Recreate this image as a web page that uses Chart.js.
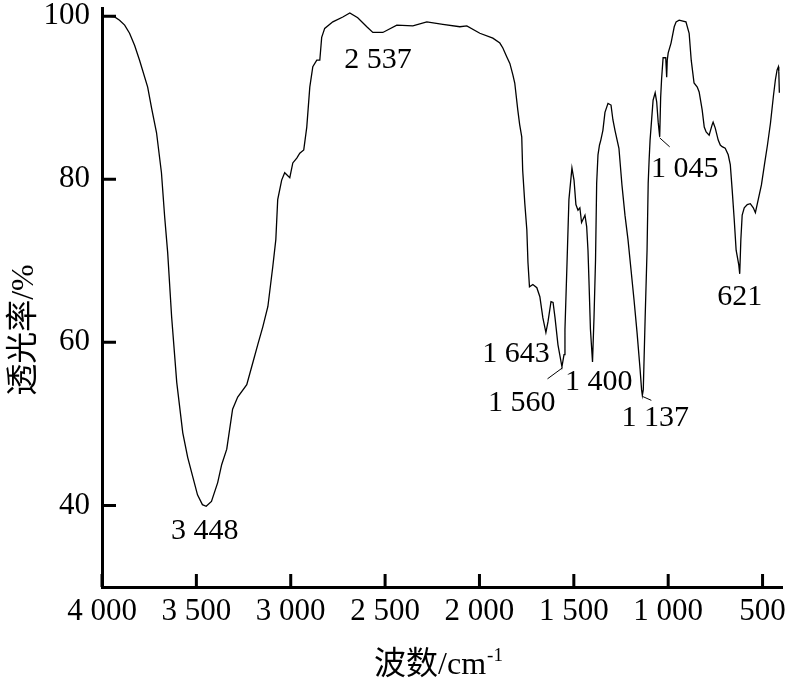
<!DOCTYPE html>
<html>
<head>
<meta charset="utf-8">
<script src="https://cdn.jsdelivr.net/npm/chart.js@4.4.1/dist/chart.umd.min.js"></script>
<style>
  html, body { margin: 0; padding: 0; background: #fff; }
  #wrap { width: 793px; height: 680px; }
</style>
</head>
<body>
<div id="wrap"><canvas id="irChart" width="793" height="680"></canvas></div>
<script>
// FTIR spectrum, values
const wavenumbers = [
    3997, 3977, 3933, 3907, 3880, 3854, 3827, 3801, 3758, 3737, 3711, 3685, 3668, 3652, 3631, 3604,
    3572, 3546, 3520, 3494, 3468, 3448, 3420, 3387, 3366, 3339, 3308, 3281, 3233, 3201, 3175, 3148,
    3121, 3095, 3079, 3069, 3048, 3032, 3005, 2989, 2968, 2952, 2931, 2915, 2899, 2883, 2862, 2846,
    2836, 2820, 2777, 2724, 2687, 2645, 2597, 2565, 2512, 2438, 2353, 2279, 2194, 2104, 2067, 1998,
    1929, 1892, 1876, 1855, 1839, 1823, 1813, 1797, 1787, 1776, 1771, 1760, 1749, 1743, 1735, 1717,
    1696, 1680, 1664, 1648, 1637, 1621, 1610, 1600, 1584, 1563, 1552, 1547, 1536, 1526, 1510, 1499,
    1489, 1478, 1468, 1459, 1441, 1432, 1425, 1420, 1412, 1401, 1393, 1385, 1379, 1372, 1364, 1357,
    1346, 1335, 1319, 1303, 1293, 1282, 1261, 1245, 1229, 1213, 1197, 1181, 1165, 1149, 1141, 1137,
    1132, 1122, 1112, 1106, 1101, 1096, 1080, 1069, 1061, 1053, 1045, 1040, 1035, 1027, 1013, 1008,
    1005, 1000, 985, 968, 958, 942, 922, 906, 889, 878, 863, 846, 836, 820, 809, 799,
    783, 767, 762, 751, 735, 724, 714, 698, 682, 671, 661, 650, 640, 626, 621, 615,
    608, 597, 581, 565, 549, 538, 523, 506, 490, 474, 458, 442, 432, 423, 416, 414, 411
];
const transmittance = [
    100.0, 100.0, 99.9, 99.5, 98.9, 97.9, 96.4, 94.6, 91.3, 88.7, 85.7, 80.8, 75.4, 71.0, 63.1, 55.1,
    48.9, 45.9, 43.6, 41.3, 40.1, 39.9, 40.5, 42.8, 45.0, 46.9, 51.8, 53.3, 54.8, 57.5, 59.7, 61.9,
    64.4, 69.3, 72.6, 77.5, 79.9, 80.8, 80.2, 82.0, 82.6, 83.2, 83.6, 86.4, 91.3, 93.8, 94.6, 94.6,
    97.4, 98.5, 99.3, 99.9, 100.4, 99.8, 98.7, 98.0, 98.0, 98.9, 98.8, 99.3, 99.0, 98.7, 98.8, 97.9,
    97.3, 96.7, 96.1, 95.0, 94.2, 92.8, 91.8, 88.5, 86.7, 85.2, 81.1, 77.1, 73.8, 69.8, 66.8, 67.1,
    66.7, 65.6, 63.0, 61.2, 62.5, 65.0, 64.9, 63.1, 59.7, 57.0, 58.5, 61.6, 69.8, 77.5, 81.4, 79.9,
    76.9, 76.2, 76.5, 74.7, 75.6, 74.2, 71.3, 67.7, 61.6, 57.6, 63.1, 70.1, 79.5, 83.0, 84.2, 84.8,
    86.0, 88.2, 89.3, 89.1, 87.3, 86.0, 83.8, 79.3, 75.6, 72.6, 68.9, 65.2, 61.2, 56.7, 54.2, 53.5,
    54.2, 63.1, 71.3, 79.5, 82.4, 84.8, 89.7, 90.6, 89.5, 87.0, 85.2, 90.0, 92.3, 94.9, 94.9, 92.5,
    94.6, 95.5, 96.7, 98.7, 99.3, 99.5, 99.4, 99.3, 97.9, 94.6, 91.8, 91.3, 90.7, 88.5, 86.4, 85.8,
    85.4, 86.7, 87.0, 86.3, 84.8, 84.2, 84.0, 83.8, 83.0, 81.8, 78.7, 75.0, 71.3, 69.5, 68.4, 72.6,
    75.6, 76.5, 76.9, 77.0, 76.5, 75.9, 77.5, 79.3, 81.8, 84.2, 86.9, 90.3, 92.2, 93.4, 93.8, 93.2, 90.6
];

const xTicks = [4000, 3500, 3000, 2500, 2000, 1500, 1000, 500];
const yTicks = [40, 60, 80, 100];

const peakWavenumbers = [3448, 2537, 1643, 1560, 1400, 1137, 1045, 621];
const peakTransmittance = [39.9, 98.0, 61.2, 57.0, 57.6, 53.5, 85.2, 68.4];
const peakLabels = ['3 448', '2 537', '1 643', '1 560', '1 400', '1 137', '1 045', '621'];

// where each label sits relative to its peak (pixels)
const peakLayout = [
    { dx: -1.5, dy: 33, align: 'center' },
    { dx: 0, dy: 36, align: 'center' },
    { dx: 3, dy: 29, align: 'right' },
    { dx: -7, dy: 44, align: 'right', leader: [-15, 12] },
    { dx: 6, dy: 28, align: 'center' },
    { dx: 13, dy: 31, align: 'center', leader: [9, 5] },
    { dx: 25, dy: 40, align: 'center', leader: [10, 10] },
    { dx: 0, dy: 31, align: 'center' }
];

const serif = '"Liberation Serif", "Times New Roman", "Noto Sans CJK SC", serif';

function spaced(v) {
    return String(v).replace(/\B(?=(\d{3})+(?!\d))/g, ' ');
}

const figurePlugin = {
    id: 'figureExtras',
    afterDraw(chart) {
        const ctx = chart.ctx;
        const x = chart.scales.x;
        const y = chart.scales.y;
        const area = chart.chartArea;
        ctx.save();
        ctx.strokeStyle = '#000';
        ctx.fillStyle = '#000';

        // inward tick marks
        ctx.lineWidth = 3;
        ctx.beginPath();
        xTicks.forEach(v => {
            const px = x.getPixelForValue(v);
            ctx.moveTo(px, area.bottom);
            ctx.lineTo(px, area.bottom - 13);
        });
        yTicks.forEach(v => {
            const py = y.getPixelForValue(v);
            ctx.moveTo(area.left, py);
            ctx.lineTo(area.left + 14, py);
        });
        ctx.stroke();

        // peak labels
        ctx.font = '30px ' + serif;
        ctx.textBaseline = 'alphabetic';
        ctx.lineWidth = 1;
        peakWavenumbers.forEach((wn, i) => {
            const px = x.getPixelForValue(wn);
            const py = y.getPixelForValue(peakTransmittance[i]);
            const lay = peakLayout[i];
            ctx.textAlign = lay.align;
            ctx.fillText(peakLabels[i], px + lay.dx, py + lay.dy);
            if (lay.leader) {
                ctx.beginPath();
                ctx.moveTo(px, py + 1);
                ctx.lineTo(px + lay.leader[0], py + lay.leader[1]);
                ctx.stroke();
            }
        });

        // axis titles
        ctx.font = '32px ' + serif;
        ctx.save();
        ctx.translate(25, 330);
        ctx.rotate(-Math.PI / 2);
        ctx.textAlign = 'center';
        ctx.textBaseline = 'middle';
        ctx.fillText('透光率/%', 0, 0);
        ctx.restore();

        const main = '波数/cm';
        const sup = '-1';
        ctx.font = '32px ' + serif;
        const w1 = ctx.measureText(main).width;
        ctx.font = '19px ' + serif;
        const w2 = ctx.measureText(sup).width;
        const startX = 438 - (w1 + w2) / 2;
        ctx.textAlign = 'left';
        ctx.textBaseline = 'alphabetic';
        ctx.font = '32px ' + serif;
        ctx.fillText(main, startX, 674);
        ctx.font = '19px ' + serif;
        ctx.fillText(sup, startX + w1 + 1, 661);
        ctx.restore();
    }
};

document.addEventListener('DOMContentLoaded', function () {
    const ctx = document.getElementById('irChart');
    new Chart(ctx, {
        type: 'line',
        data: {
            datasets: [{
                data: wavenumbers.map((wn, i) => ({ x: wn, y: transmittance[i] })),
                borderColor: '#000',
                borderWidth: 1.3,
                pointRadius: 0,
                tension: 0,
                fill: false
            }]
        },
        options: {
            responsive: false,
            animation: false,
            devicePixelRatio: 1,
            layout: { padding: { top: 8, right: 11, left: 0, bottom: 0 } },
            plugins: {
                legend: { display: false },
                tooltip: { enabled: false }
            },
            scales: {
                x: {
                    type: 'linear',
                    reverse: true,
                    min: 397,
                    max: 4000,
                    grid: { display: false, drawTicks: false },
                    border: { display: true, color: '#000', width: 3 },
                    afterBuildTicks: scale => { scale.ticks = xTicks.map(v => ({ value: v })); },
                    afterFit: scale => { scale.height = 93; },
                    ticks: {
                        autoSkip: false,
                        maxRotation: 0,
                        padding: 6,
                        color: '#000',
                        font: { family: serif, size: 31 },
                        callback: v => spaced(v)
                    }
                },
                y: {
                    min: 30,
                    max: 101,
                    grid: { display: false, drawTicks: false },
                    border: { display: true, color: '#000', width: 3 },
                    afterBuildTicks: scale => { scale.ticks = yTicks.map(v => ({ value: v })); },
                    afterFit: scale => {
                        scale.width = 102;
                        scale.paddingTop = 0;
                        scale.paddingBottom = 0;
                    },
                    ticks: {
                        padding: 12,
                        color: '#000',
                        font: { family: serif, size: 31 }
                    }
                }
            }
        },
        plugins: [figurePlugin]
    });
});
</script>
</body>
</html>
